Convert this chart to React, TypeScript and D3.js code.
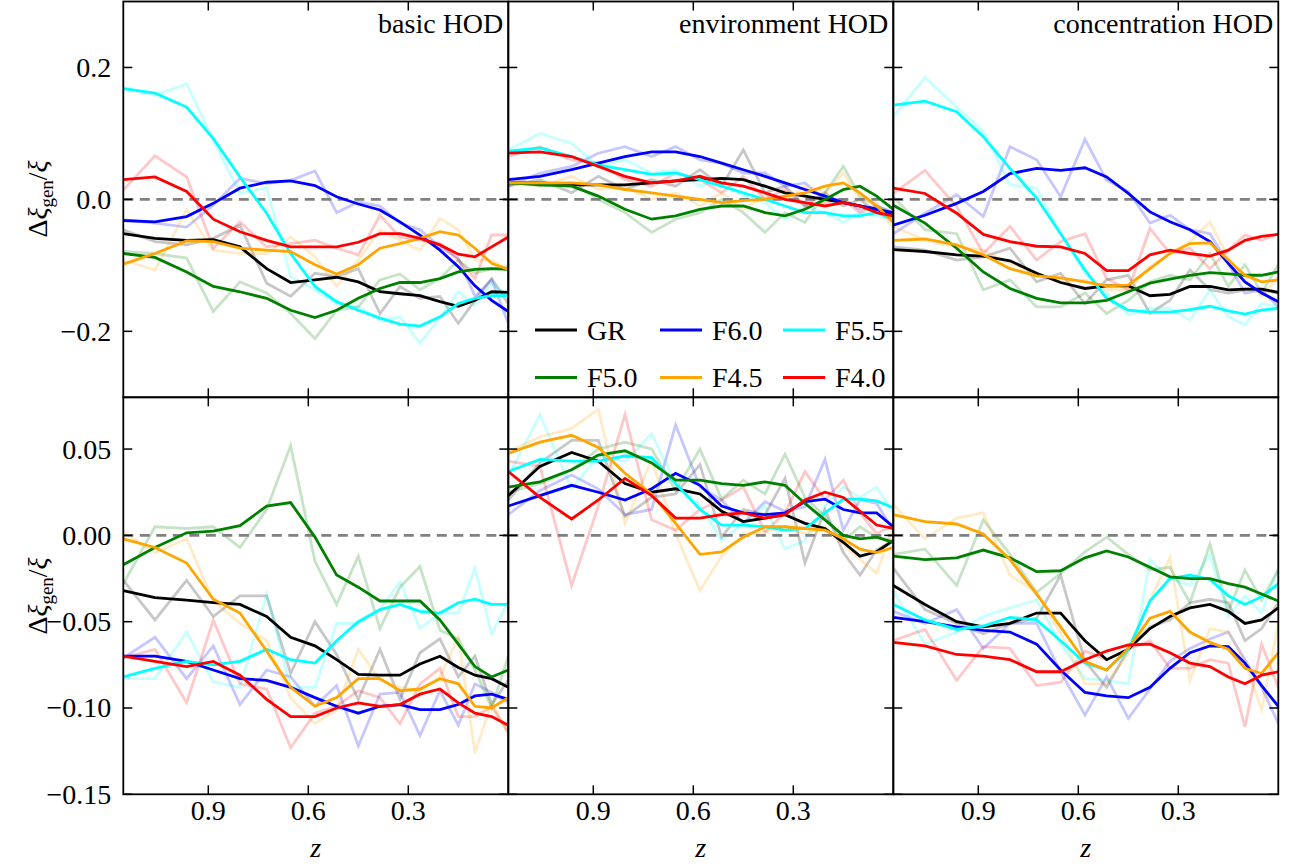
import React from 'react';
import * as d3 from 'd3';

// Redshift of each sampled snapshot (same for every panel)
const redshifts = [1.155, 1.06, 0.965, 0.885, 0.805, 0.725, 0.653, 0.58, 0.515, 0.45, 0.385, 0.325, 0.265, 0.205, 0.15, 0.1, 0.05, 0.0];

const seriesNames = ['GR', 'F6.0', 'F5.5', 'F5.0', 'F4.5', 'F4.0'];
const seriesColors = ['#000000', '#0000ff', '#00ffff', '#008000', '#ffa500', '#ff0000'];
const panelTitles = ['basic HOD', 'environment HOD', 'concentration HOD'];
const xTicks = [0.9, 0.6, 0.3];
const topYTicks = [-0.2, 0.0, 0.2];
const bottomYTicks = [-0.15, -0.1, -0.05, 0.0, 0.05];
const topDomain: [number, number] = [-0.3, 0.3];
const bottomDomain: [number, number] = [-0.15, 0.08];

// Each table: one row per model, in the order of seriesNames
const topBasicSmooth = [
  [-0.052, -0.059, -0.062, -0.061, -0.072, -0.105, -0.126, -0.122, -0.118, -0.125, -0.140, -0.143, -0.146, -0.155, -0.162, -0.153, -0.140, -0.141],
  [-0.032, -0.034, -0.026, -0.006, 0.017, 0.026, 0.028, 0.021, 0.004, -0.007, -0.016, -0.034, -0.054, -0.077, -0.102, -0.131, -0.153, -0.170],
  [0.168, 0.161, 0.140, 0.092, 0.034, -0.021, -0.082, -0.132, -0.155, -0.168, -0.180, -0.189, -0.192, -0.178, -0.158, -0.150, -0.146, -0.146],
  [-0.082, -0.088, -0.110, -0.132, -0.140, -0.150, -0.168, -0.179, -0.168, -0.150, -0.135, -0.126, -0.126, -0.120, -0.110, -0.106, -0.105, -0.106],
  [-0.098, -0.082, -0.063, -0.064, -0.074, -0.077, -0.079, -0.099, -0.113, -0.099, -0.074, -0.067, -0.059, -0.049, -0.054, -0.074, -0.097, -0.106],
  [0.030, 0.034, 0.012, -0.030, -0.049, -0.062, -0.072, -0.072, -0.072, -0.065, -0.052, -0.052, -0.059, -0.069, -0.083, -0.087, -0.072, -0.057],
];
const topBasicRaw = [
  [-0.046, -0.064, -0.069, -0.059, -0.039, -0.127, -0.147, -0.112, -0.117, -0.105, -0.173, -0.132, -0.150, -0.147, -0.188, -0.153, -0.120, -0.158],
  [-0.031, -0.036, -0.042, -0.009, 0.032, 0.024, 0.029, 0.043, -0.020, -0.004, -0.010, -0.036, -0.046, -0.072, -0.089, -0.147, -0.122, -0.188],
  [0.170, 0.158, 0.175, 0.090, 0.009, 0.018, -0.117, -0.137, -0.158, -0.163, -0.183, -0.178, -0.218, -0.180, -0.140, -0.160, -0.127, -0.147],
  [-0.079, -0.082, -0.089, -0.170, -0.125, -0.142, -0.173, -0.211, -0.168, -0.163, -0.122, -0.113, -0.137, -0.120, -0.092, -0.112, -0.105, -0.102],
  [-0.092, -0.107, -0.016, -0.077, -0.082, -0.082, -0.057, -0.087, -0.132, -0.092, -0.046, -0.062, -0.077, -0.029, -0.046, -0.092, -0.092, -0.107],
  [0.014, 0.066, 0.034, -0.074, -0.034, -0.072, -0.067, -0.062, -0.074, -0.084, -0.024, -0.057, -0.062, -0.067, -0.092, -0.120, -0.054, -0.054],
];

const topEnvSmooth = [
  [0.025, 0.025, 0.022, 0.022, 0.022, 0.025, 0.028, 0.030, 0.032, 0.030, 0.020, 0.010, 0.005, 0.000, -0.005, -0.010, -0.015, -0.025],
  [0.030, 0.035, 0.045, 0.055, 0.065, 0.072, 0.072, 0.065, 0.055, 0.045, 0.035, 0.025, 0.015, 0.005, -0.005, -0.010, -0.015, -0.020],
  [0.073, 0.078, 0.065, 0.052, 0.045, 0.038, 0.040, 0.030, 0.020, 0.010, 0.000, -0.010, -0.020, -0.020, -0.025, -0.025, -0.020, -0.030],
  [0.025, 0.022, 0.020, 0.005, -0.015, -0.030, -0.025, -0.015, -0.010, -0.010, -0.020, -0.025, -0.015, 0.000, 0.015, 0.020, 0.005, -0.015],
  [0.025, 0.025, 0.025, 0.022, 0.015, 0.010, 0.005, 0.000, -0.005, -0.002, 0.000, 0.005, 0.010, 0.020, 0.025, 0.010, -0.010, -0.035],
  [0.070, 0.072, 0.065, 0.050, 0.035, 0.025, 0.028, 0.035, 0.025, 0.020, 0.010, 0.000, -0.005, -0.010, -0.005, -0.010, -0.020, -0.025],
];
const topEnvRaw = [
  [0.020, 0.030, 0.010, 0.035, 0.015, 0.030, 0.020, 0.045, 0.020, 0.075, 0.010, 0.020, -0.010, 0.010, -0.010, 0.000, -0.020, -0.030],
  [0.020, 0.040, 0.050, 0.070, 0.080, 0.065, 0.080, 0.060, 0.055, 0.040, 0.040, 0.020, 0.025, 0.000, 0.000, -0.015, -0.010, -0.020],
  [0.075, 0.100, 0.085, 0.050, 0.060, 0.040, 0.045, 0.020, 0.030, 0.005, -0.005, -0.030, -0.010, -0.020, -0.035, -0.020, -0.025, -0.030],
  [0.030, 0.020, 0.025, 0.000, -0.020, -0.050, -0.030, -0.020, 0.000, -0.020, -0.050, -0.020, -0.035, 0.010, 0.050, 0.005, -0.010, -0.020],
  [0.030, 0.020, 0.035, 0.015, 0.020, 0.000, 0.010, -0.010, 0.010, -0.015, 0.005, 0.000, 0.020, 0.010, 0.040, 0.000, -0.005, -0.045],
  [0.065, 0.080, 0.060, 0.055, 0.030, 0.020, 0.040, 0.030, 0.010, 0.035, 0.000, 0.015, -0.010, -0.005, 0.000, -0.020, -0.010, -0.030],
];

const topConcSmooth = [
  [-0.076, -0.079, -0.084, -0.086, -0.093, -0.112, -0.126, -0.135, -0.131, -0.131, -0.146, -0.144, -0.132, -0.132, -0.137, -0.136, -0.136, -0.141],
  [-0.039, -0.024, -0.006, 0.012, 0.039, 0.047, 0.044, 0.048, 0.034, 0.009, -0.019, -0.034, -0.046, -0.064, -0.097, -0.125, -0.142, -0.155],
  [0.143, 0.149, 0.133, 0.095, 0.047, 0.002, -0.052, -0.107, -0.150, -0.168, -0.171, -0.171, -0.167, -0.162, -0.169, -0.174, -0.168, -0.165],
  [-0.009, -0.036, -0.074, -0.110, -0.135, -0.150, -0.157, -0.157, -0.153, -0.140, -0.127, -0.121, -0.115, -0.111, -0.113, -0.115, -0.115, -0.110],
  [-0.062, -0.060, -0.069, -0.084, -0.105, -0.116, -0.119, -0.125, -0.131, -0.130, -0.105, -0.082, -0.067, -0.066, -0.092, -0.115, -0.125, -0.122],
  [0.017, 0.009, -0.021, -0.053, -0.064, -0.071, -0.072, -0.082, -0.108, -0.108, -0.084, -0.077, -0.082, -0.086, -0.077, -0.062, -0.056, -0.053],
];
const topConcRaw = [
  [-0.072, -0.077, -0.092, -0.087, -0.074, -0.125, -0.112, -0.158, -0.122, -0.115, -0.173, -0.153, -0.107, -0.137, -0.142, -0.137, -0.137, -0.142],
  [-0.052, -0.021, 0.007, -0.026, 0.080, 0.060, 0.004, 0.091, 0.029, 0.012, -0.036, -0.024, -0.046, -0.052, -0.097, -0.142, -0.137, -0.163],
  [0.125, 0.185, 0.140, 0.103, 0.022, 0.017, -0.052, -0.112, -0.142, -0.175, -0.165, -0.165, -0.183, -0.137, -0.178, -0.190, -0.158, -0.163],
  [0.004, -0.046, -0.052, -0.137, -0.122, -0.163, -0.163, -0.142, -0.173, -0.153, -0.125, -0.115, -0.122, -0.082, -0.132, -0.099, -0.142, -0.099],
  [-0.041, -0.062, -0.072, -0.077, -0.097, -0.112, -0.125, -0.122, -0.137, -0.137, -0.102, -0.082, -0.064, -0.034, -0.089, -0.120, -0.147, -0.117],
  [0.009, 0.044, -0.011, -0.082, -0.041, -0.092, -0.064, -0.052, -0.120, -0.137, -0.044, -0.082, -0.074, -0.105, -0.077, -0.054, -0.062, -0.052],
];

const bottomBasicSmooth = [
  [-0.032, -0.036, -0.0375, -0.039, -0.040, -0.047, -0.059, -0.064, -0.072, -0.0805, -0.081, -0.081, -0.0745, -0.070, -0.0765, -0.081, -0.083, -0.088],
  [-0.070, -0.070, -0.073, -0.078, -0.083, -0.084, -0.088, -0.094, -0.099, -0.103, -0.099, -0.098, -0.101, -0.101, -0.098, -0.093, -0.092, -0.095],
  [-0.082, -0.077, -0.073, -0.075, -0.073, -0.066, -0.072, -0.074, -0.061, -0.050, -0.043, -0.040, -0.044, -0.045, -0.039, -0.037, -0.040, -0.040],
  [-0.017, -0.007, 0.0015, 0.0025, 0.0056, 0.017, 0.019, -0.001, -0.023, -0.030, -0.038, -0.038, -0.038, -0.049, -0.063, -0.076, -0.082, -0.078],
  [-0.002, -0.007, -0.016, -0.037, -0.045, -0.067, -0.088, -0.099, -0.094, -0.083, -0.083, -0.090, -0.089, -0.083, -0.086, -0.099, -0.100, -0.094],
  [-0.070, -0.073, -0.076, -0.073, -0.081, -0.095, -0.105, -0.105, -0.100, -0.097, -0.099, -0.098, -0.092, -0.089, -0.097, -0.103, -0.105, -0.110],
];
const bottomBasicRaw = [
  [-0.026, -0.049, -0.026, -0.047, -0.035, -0.035, -0.080, -0.050, -0.069, -0.095, -0.066, -0.095, -0.068, -0.060, -0.082, -0.070, -0.098, -0.084],
  [-0.071, -0.059, -0.083, -0.064, -0.098, -0.078, -0.082, -0.099, -0.087, -0.122, -0.092, -0.091, -0.116, -0.090, -0.110, -0.086, -0.091, -0.097],
  [-0.083, -0.083, -0.056, -0.085, -0.088, -0.034, -0.088, -0.088, -0.051, -0.051, -0.043, -0.027, -0.054, -0.045, -0.045, -0.019, -0.057, -0.038],
  [-0.028, 0.005, 0.004, 0.005, -0.007, 0.015, 0.052, -0.015, -0.040, -0.012, -0.054, -0.030, -0.018, -0.055, -0.060, -0.078, -0.100, -0.070],
  [0.002, -0.010, -0.002, -0.038, -0.051, -0.061, -0.094, -0.109, -0.101, -0.066, -0.084, -0.088, -0.090, -0.082, -0.059, -0.126, -0.097, -0.115],
  [-0.071, -0.066, -0.097, -0.049, -0.086, -0.089, -0.123, -0.103, -0.099, -0.090, -0.094, -0.109, -0.086, -0.077, -0.105, -0.105, -0.099, -0.114],
];

const bottomEnvSmooth = [
  [0.023, 0.040, 0.048, 0.043, 0.030, 0.025, 0.027, 0.024, 0.014, 0.008, 0.010, 0.012, 0.007, 0.004, -0.004, -0.012, -0.0095, -0.003],
  [0.017, 0.023, 0.029, 0.025, 0.0205, 0.027, 0.036, 0.029, 0.017, 0.013, 0.012, 0.013, 0.0195, 0.021, 0.015, 0.013, 0.013, 0.005],
  [0.037, 0.044, 0.043, 0.043, 0.046, 0.045, 0.030, 0.015, 0.006, 0.006, 0.005, 0.003, 0.004, 0.013, 0.021, 0.021, 0.020, 0.016],
  [0.028, 0.031, 0.038, 0.0465, 0.049, 0.042, 0.032, 0.032, 0.030, 0.029, 0.031, 0.029, 0.0185, 0.009, 0.000, -0.002, -0.001, -0.004],
  [0.0475, 0.054, 0.058, 0.051, 0.036, 0.024, 0.007, -0.011, -0.0095, -0.001, 0.005, 0.005, 0.004, 0.003, -0.002, -0.008, -0.010, -0.007],
  [0.037, 0.022, 0.0095, 0.0205, 0.033, 0.023, 0.010, 0.010, 0.012, 0.013, 0.010, 0.012, 0.0205, 0.025, 0.022, 0.014, 0.006, 0.004],
];
const bottomEnvRaw = [
  [0.0205, 0.042, 0.055, 0.055, 0.011, 0.022, 0.024, 0.041, -0.001, 0.015, 0.012, 0.033, -0.016, 0.015, -0.010, -0.023, -0.0085, -0.003],
  [0.012, 0.026, 0.035, 0.027, 0.012, 0.015, 0.064, 0.028, 0.0205, 0.007, 0.0195, 0.014, 0.0165, 0.044, 0.003, 0.0205, 0.0185, 0.003],
  [0.034, 0.070, 0.027, 0.046, 0.043, 0.059, 0.030, 0.017, -0.003, 0.007, 0.017, -0.008, -0.003, 0.017, 0.028, 0.022, 0.028, 0.013],
  [0.025, 0.030, 0.038, 0.050, 0.054, 0.050, 0.026, 0.050, 0.021, 0.032, 0.024, 0.047, 0.022, 0.011, -0.003, 0.005, -0.001, -0.003],
  [0.0485, 0.057, 0.062, 0.073, 0.007, 0.044, 0.001, -0.032, -0.012, 0.001, 0.002, 0.005, 0.001, 0.005, -0.005, -0.014, -0.022, 0.005],
  [0.043, 0.040, -0.029, 0.017, 0.070, 0.009, 0.003, 0.015, 0.0205, 0.028, 0.002, 0.013, 0.037, 0.0205, 0.032, 0.013, 0.001, 0.006],
];

const bottomConcSmooth = [
  [-0.029, -0.040, -0.050, -0.053, -0.051, -0.045, -0.045, -0.061, -0.072, -0.066, -0.054, -0.047, -0.042, -0.040, -0.044, -0.051, -0.049, -0.042],
  [-0.0475, -0.050, -0.053, -0.055, -0.056, -0.063, -0.078, -0.091, -0.093, -0.094, -0.088, -0.077, -0.068, -0.064, -0.0645, -0.074, -0.087, -0.099],
  [-0.040, -0.049, -0.0545, -0.0525, -0.0475, -0.049, -0.061, -0.074, -0.078, -0.066, -0.038, -0.025, -0.023, -0.0255, -0.035, -0.040, -0.0355, -0.028],
  [-0.012, -0.014, -0.013, -0.0085, -0.013, -0.021, -0.0205, -0.013, -0.009, -0.0125, -0.0185, -0.024, -0.025, -0.025, -0.028, -0.030, -0.034, -0.038],
  [0.012, 0.008, 0.0066, 0.0008, -0.014, -0.034, -0.053, -0.073, -0.078, -0.0655, -0.048, -0.044, -0.056, -0.062, -0.066, -0.077, -0.080, -0.068],
  [-0.062, -0.064, -0.069, -0.070, -0.072, -0.079, -0.079, -0.072, -0.067, -0.0635, -0.063, -0.068, -0.074, -0.076, -0.082, -0.086, -0.081, -0.079],
];
const bottomConcRaw = [
  [-0.019, -0.043, -0.051, -0.057, -0.051, -0.048, -0.023, -0.073, -0.088, -0.066, -0.053, -0.049, -0.039, -0.037, -0.039, -0.061, -0.054, -0.039],
  [-0.044, -0.051, -0.043, -0.0655, -0.051, -0.051, -0.079, -0.104, -0.082, -0.106, -0.089, -0.073, -0.0655, -0.060, -0.056, -0.072, -0.088, -0.109],
  [-0.032, -0.063, -0.056, -0.047, -0.042, -0.0375, -0.063, -0.083, -0.084, -0.086, -0.014, -0.025, -0.029, -0.011, -0.047, -0.035, -0.045, -0.019],
  [-0.011, -0.008, -0.029, 0.009, -0.011, -0.033, -0.022, -0.0095, -0.001, -0.011, -0.020, -0.0185, -0.039, -0.005, -0.044, -0.020, -0.0375, -0.020],
  [0.018, -0.002, 0.010, 0.013, -0.023, -0.033, -0.057, -0.086, -0.086, -0.068, -0.0375, -0.013, -0.084, -0.054, -0.056, -0.073, -0.101, -0.051],
  [-0.061, -0.0545, -0.084, -0.0645, -0.0655, -0.087, -0.085, -0.067, -0.072, -0.066, -0.061, -0.077, -0.077, -0.072, -0.074, -0.111, -0.063, -0.088],
];

const W = 1295;
const H = 866;
const FONT = '"Liberation Serif", "DejaVu Serif", serif';
const FS = 28;
const colLeft = [123.3, 508.3, 893.3];
const colWidth = 385;
const rowTop = [1.5, 397.3];
const rowBottom = [397.3, 794.3];
const TICK = 9;

type Panel = { row: number; col: number; smooth: number[][]; raw: number[][] };

const panels: Panel[] = [
  { row: 0, col: 0, smooth: topBasicSmooth, raw: topBasicRaw },
  { row: 0, col: 1, smooth: topEnvSmooth, raw: topEnvRaw },
  { row: 0, col: 2, smooth: topConcSmooth, raw: topConcRaw },
  { row: 1, col: 0, smooth: bottomBasicSmooth, raw: bottomBasicRaw },
  { row: 1, col: 1, smooth: bottomEnvSmooth, raw: bottomEnvRaw },
  { row: 1, col: 2, smooth: bottomConcSmooth, raw: bottomConcRaw },
];

function YLabel({ cy }: { cy: number }) {
  return (
    <text
      transform={`translate(47,${cy}) rotate(-90)`}
      textAnchor="middle"
      fontFamily={FONT}
      fontSize={FS}
    >
      <tspan>Δ</tspan>
      <tspan fontStyle="italic">ξ</tspan>
      <tspan fontSize={19} dy={6}>gen</tspan>
      <tspan dy={-6}>/</tspan>
      <tspan fontStyle="italic">ξ</tspan>
    </text>
  );
}

function PanelView({ p }: { p: Panel }) {
  const x0 = colLeft[p.col];
  const x1 = x0 + colWidth;
  const y0 = rowTop[p.row];
  const y1 = rowBottom[p.row];
  const x = d3.scaleLinear().domain([redshifts[0], 0]).range([x0, x1]);
  const y = d3.scaleLinear().domain(p.row === 0 ? topDomain : bottomDomain).range([y1, y0]);
  const yTicks = p.row === 0 ? topYTicks : bottomYTicks;
  const fmt = d3.format(p.row === 0 ? '.1f' : '.2f');
  const line = d3
    .line<number>()
    .x((_, i) => x(redshifts[i]))
    .y((v) => y(v));
  const clipId = `clip-${p.row}-${p.col}`;
  return (
    <g>
      <defs>
        <clipPath id={clipId}>
          <rect x={x0} y={y0} width={x1 - x0} height={y1 - y0} />
        </clipPath>
      </defs>
      <g clipPath={`url(#${clipId})`}>
        {p.raw.map((vals, i) => (
          <path key={`r${i}`} d={line(vals) || ''} fill="none" stroke={seriesColors[i]} strokeOpacity={0.22} strokeWidth={2.8} strokeLinejoin="miter" />
        ))}
        <line x1={x0} x2={x1} y1={y(0)} y2={y(0)} stroke="#808080" strokeWidth={2.6} strokeDasharray="10,6.5" />
        {p.smooth.map((vals, i) => (
          <path key={`s${i}`} d={line(vals) || ''} fill="none" stroke={seriesColors[i]} strokeWidth={2.8} strokeLinejoin="miter" />
        ))}
      </g>
      {/* ticks on all four sides, pointing inward */}
      {xTicks.map((t) => (
        <g key={`xt${t}`} stroke="#000" strokeWidth={1.5}>
          <line x1={x(t)} x2={x(t)} y1={y1} y2={y1 - TICK} />
          <line x1={x(t)} x2={x(t)} y1={y0} y2={y0 + TICK} />
        </g>
      ))}
      {yTicks.map((t) => (
        <g key={`yt${t}`} stroke="#000" strokeWidth={1.5}>
          <line x1={x0} x2={x0 + TICK} y1={y(t)} y2={y(t)} />
          <line x1={x1} x2={x1 - TICK} y1={y(t)} y2={y(t)} />
        </g>
      ))}
      <rect x={x0} y={y0} width={x1 - x0} height={y1 - y0} fill="none" stroke="#000" strokeWidth={1.8} />
      {p.col === 0 &&
        yTicks.map((t) => (
          <text key={`yl${t}`} x={x0 - 12} y={y(t) + 9.5} textAnchor="end" fontFamily={FONT} fontSize={FS}>
            {fmt(t)}
          </text>
        ))}
      {p.row === 1 &&
        xTicks.map((t) => (
          <text key={`xl${t}`} x={x(t)} y={820} textAnchor="middle" fontFamily={FONT} fontSize={FS}>
            {d3.format('.1f')(t)}
          </text>
        ))}
      {p.row === 1 && (
        <text x={(x0 + x1) / 2} y={857} textAnchor="middle" fontFamily={FONT} fontSize={FS} fontStyle="italic">
          z
        </text>
      )}
      {p.row === 0 && (
        <text x={x1 - 5} y={33} textAnchor="end" fontFamily={FONT} fontSize={FS}>
          {panelTitles[p.col]}
        </text>
      )}
    </g>
  );
}

function Legend() {
  const colX = [535, 660, 783];
  const rowY = [330, 377.5];
  return (
    <g>
      {seriesNames.map((name, i) => {
        const cx = colX[i % 3];
        const cy = rowY[Math.floor(i / 3)];
        return (
          <g key={name}>
            <line x1={cx} x2={cx + 42} y1={cy} y2={cy} stroke={seriesColors[i]} strokeWidth={3} />
            <text x={cx + 52} y={cy + 9.5} fontFamily={FONT} fontSize={FS}>
              {name}
            </text>
          </g>
        );
      })}
    </g>
  );
}

export default function App() {
  return (
    <svg width={W} height={H} style={{ position: 'absolute', left: 0, top: 0, background: '#fff' }}>
      <rect x={0} y={0} width={W} height={H} fill="#fff" />
      {panels.map((p) => (
        <PanelView key={`${p.row}-${p.col}`} p={p} />
      ))}
      <Legend />
      <YLabel cy={199} />
      <YLabel cy={596} />
    </svg>
  );
}
